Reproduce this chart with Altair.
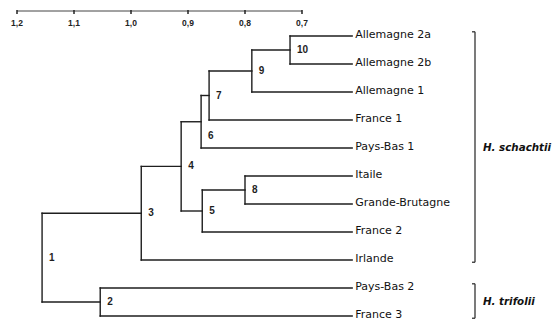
import altair as alt
import pandas as pd

# Leaves, top to bottom
leaves = ["Allemagne 2a", "Allemagne 2b", "Allemagne 1", "France 1", "Pays-Bas 1",
          "Itaile", "Grande-Brutagne", "France 2", "Irlande", "Pays-Bas 2", "France 3"]

# Internal nodes: label, fusion level, children (leaf names or node labels)
node_names = ["10", "9", "7", "6", "8", "5", "4", "3", "2", "1"]
node_levels = [0.721, 0.788, 0.863, 0.877, 0.800, 0.875, 0.912, 0.982, 1.054, 1.156]
node_children = [
    ("Allemagne 2a", "Allemagne 2b"),
    ("10", "Allemagne 1"),
    ("9", "France 1"),
    ("7", "Pays-Bas 1"),
    ("Itaile", "Grande-Brutagne"),
    ("8", "France 2"),
    ("6", "5"),
    ("4", "Irlande"),
    ("Pays-Bas 2", "France 3"),
    ("3", "2"),
]
leaf_level = 0.612

# Axis ticks
tick_values = [1.2, 1.1, 1.0, 0.9, 0.8, 0.7]
tick_labels = ["1,2", "1,1", "1,0", "0,9", "0,8", "0,7"]

# Species groups (first leaf, last leaf)
groups = ["H. schachtii", "H. trifolii"]
group_spans = [("Allemagne 2a", "Irlande"), ("Pays-Bas 2", "France 3")]

# ---- build dendrogram geometry ----
pos = {name: (leaf_level, float(i)) for i, name in enumerate(leaves)}
segs = []
node_rows = []
for name, lvl, (a, b) in zip(node_names, node_levels, node_children):
    xa, ya = pos[a]
    xb, yb = pos[b]
    segs.append({"x": lvl, "x2": lvl, "y": ya, "y2": yb})
    segs.append({"x": lvl, "x2": xa, "y": ya, "y2": ya})
    segs.append({"x": lvl, "x2": xb, "y": yb, "y2": yb})
    mid = (ya + yb) / 2
    pos[name] = (lvl, mid)
    node_rows.append({"name": name, "x": lvl, "y": mid + (0.5 if name == "6" else 0.0)})

seg_df = pd.DataFrame(segs)
node_df = pd.DataFrame(node_rows)
leaf_df = pd.DataFrame({"name": leaves, "x": [leaf_level] * len(leaves),
                        "y": list(range(len(leaves)))})
tick_df = pd.DataFrame({"v": tick_values, "lab": tick_labels})
axis_df = pd.DataFrame({"x": [max(tick_values)], "x2": [min(tick_values)]})

brk = []
for g, (a, b) in zip(groups, group_spans):
    ia, ib = leaves.index(a), leaves.index(b)
    brk.append({"g": g, "top": ia - 0.15, "bot": ib + 0.08, "mid": (ia + ib) / 2})
brk_df = pd.DataFrame(brk)

W, H = 554, 320
xs = alt.Scale(domain=[1.2 + 17 / 570, 1.2 - 537 / 570], nice=False, zero=False)
ys = alt.Scale(domain=[-36 / 28, (H - 36) / 28], reverse=True, nice=False, zero=False)
INK = "#1e1e1e"


def X(field):
    return alt.X(field, type="quantitative", scale=xs, axis=None)


def Y(field):
    return alt.Y(field, type="quantitative", scale=ys, axis=None)


tree = alt.Chart(seg_df).mark_rule(color=INK, strokeWidth=1.4, strokeCap="square").encode(
    x=X("x"), x2="x2:Q", y=Y("y"), y2="y2:Q")

node_text = alt.Chart(node_df).mark_text(
    align="left", baseline="middle", dx=7, font="Liberation Sans", fontSize=10,
    fontWeight="bold", color=INK).encode(x=X("x"), y=Y("y"), text="name:N")

leaf_text = alt.Chart(leaf_df).mark_text(
    align="left", baseline="middle", dx=3, dy=-1.5, font="DejaVu Sans", fontSize=11,
    color="#111").encode(x=X("x"), y=Y("y"), text="name:N")

axis_line = alt.Chart(axis_df).mark_rule(color="#444", strokeWidth=1).encode(
    x=X("x"), x2="x2:Q", y=alt.value(11))
axis_ticks = alt.Chart(tick_df).mark_rule(color="#222", strokeWidth=1.5).encode(
    x=X("v"), y=alt.value(10), y2=alt.value(14))
axis_text = alt.Chart(tick_df).mark_text(
    baseline="middle", font="Liberation Sans", fontSize=8.5, fontWeight="bold",
    color="#222").encode(x=X("v"), y=alt.value(23), text="lab:N")

brk_v = alt.Chart(brk_df).mark_rule(color="#333", strokeWidth=1.3).encode(
    x=alt.value(475), y=Y("top"), y2="bot:Q")
brk_top = alt.Chart(brk_df).mark_rule(color="#333", strokeWidth=1.3).encode(
    x=alt.value(472), x2=alt.value(475), y=Y("top"))
brk_bot = alt.Chart(brk_df).mark_rule(color="#333", strokeWidth=1.3).encode(
    x=alt.value(472), x2=alt.value(475), y=Y("bot"))
brk_text = alt.Chart(brk_df).mark_text(
    align="left", baseline="middle", font="DejaVu Sans", fontSize=10.3,
    fontStyle="italic", fontWeight="bold", color="#111").encode(
    x=alt.value(483), y=Y("mid"), text="g:N")

chart = alt.layer(
    axis_line, axis_ticks, axis_text, tree, node_text, leaf_text,
    brk_v, brk_top, brk_bot, brk_text
).properties(
    width=W, height=H, padding=0, autosize=alt.AutoSizeParams(type="none"),
    background="white"
).configure_view(stroke=None)

chart.save("out.html", embed_options={"renderer": "svg", "actions": False})
